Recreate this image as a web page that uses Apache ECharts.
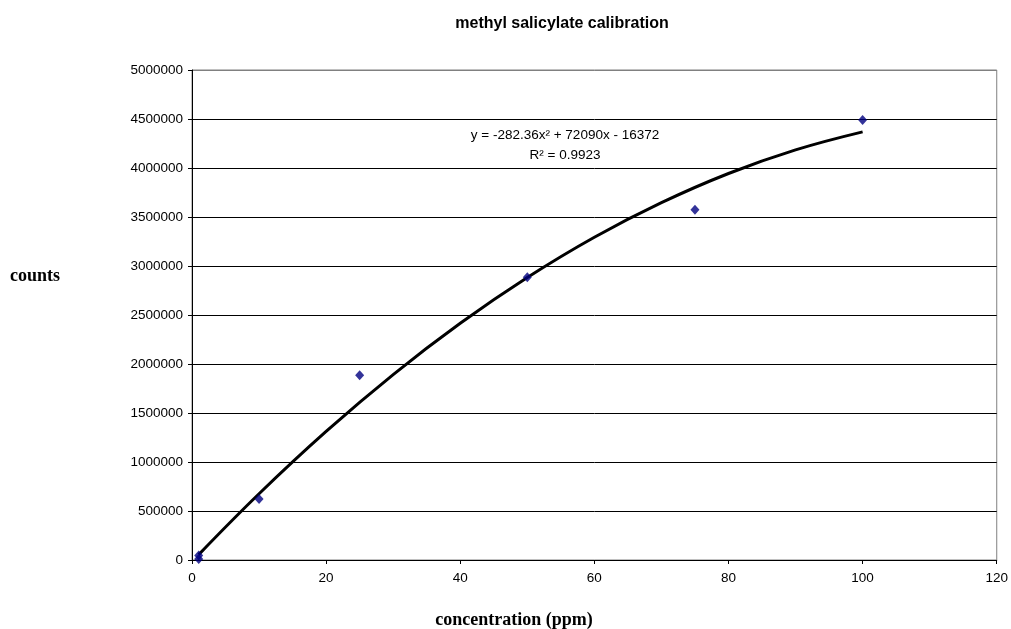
<!DOCTYPE html>
<html>
<head>
<meta charset="utf-8">
<script src="https://cdn.jsdelivr.net/npm/echarts@6/dist/echarts.min.js"></script>
<style>html,body{margin:0;padding:0;background:#fff}#c{width:1011px;height:629px}</style>
</head>
<body>
<div id="c"></div>
<script>
// measured points (concentration ppm, counts)
var concentration = [1, 1, 10, 25, 50, 75, 100];
var counts = [10000, 45000, 622000, 1885000, 2885000, 3575000, 4490000];
// trendline
var trendX = [1, 10, 20, 30, 40, 50, 60, 70, 80, 90, 100];
var trendY = [55000, 676000, 1312000, 1892000, 2415000, 2882000, 3293000, 3646000, 3944000, 4185000, 4369000];
var xTicks = [0, 20, 40, 60, 80, 100, 120];
var yTicks = [0, 500000, 1000000, 1500000, 2000000, 2500000, 3000000, 3500000, 4000000, 4500000, 5000000];
var titleText = 'methyl salicylate calibration';
var xName = 'concentration (ppm)';
var yName = 'counts';
var eqLine1 = 'y = -282.36x² + 72090x - 16372';
var eqLine2 = 'R² = 0.9923';

var chart = echarts.init(document.getElementById('c'), null, {renderer: 'canvas'});
var splitColors = yTicks.map(function (v, i) { return i === yTicks.length - 1 ? '#808080' : '#000'; });
chart.setOption({
  animation: false,
  backgroundColor: '#fff',
  title: {
    text: titleText, left: 557, top: 11, textAlign: 'center',
    textStyle: {fontFamily: 'Liberation Sans', fontSize: 16, fontWeight: 'bold', color: '#000'}
  },
  grid: {left: 192, right: 14, top: 70, bottom: 69, show: true, borderColor: '#808080', borderWidth: 1},
  xAxis: {
    type: 'value', min: xTicks[0], max: xTicks[xTicks.length - 1], interval: 20,
    axisLine: {lineStyle: {color: '#000', width: 1}},
    axisTick: {show: true, length: 4, lineStyle: {color: '#000'}},
    axisLabel: {fontFamily: 'Liberation Sans', fontSize: 13.5, color: '#000', margin: 11},
    splitLine: {show: false}
  },
  yAxis: {
    type: 'value', min: yTicks[0], max: yTicks[yTicks.length - 1], interval: 500000,
    axisLine: {show: true, lineStyle: {color: '#000', width: 1}},
    axisTick: {show: true, length: 4, lineStyle: {color: '#000'}},
    axisLabel: {fontFamily: 'Liberation Sans', fontSize: 13.5, color: '#000', margin: 9,
      formatter: function (v) { return String(v); }},
    splitLine: {show: true, lineStyle: {color: splitColors, width: 1}}
  },
  graphic: [
    {type: 'text', x: 10, y: 276, style: {text: yName, font: 'bold 18px "Liberation Serif"', fill: '#000', textVerticalAlign: 'middle'}},
    {type: 'text', x: 514, y: 620, style: {text: xName, font: 'bold 18px "Liberation Serif"', fill: '#000', textAlign: 'center', textVerticalAlign: 'middle'}},
    {type: 'text', x: 565, y: 125, style: {
      text: eqLine1 + '\n' + eqLine2, textAlign: 'center', fill: '#000',
      font: '13.5px "Liberation Sans"', lineHeight: 20
    }}
  ],
  series: [
    {
      type: 'line', data: trendX.map(function (x, i) { return [x, trendY[i]]; }),
      smooth: 0.4, showSymbol: false, symbol: 'none',
      lineStyle: {color: '#000', width: 3}, z: 2
    },
    {
      type: 'scatter', data: concentration.map(function (x, i) { return [x, counts[i]]; }),
      symbol: 'diamond', symbolSize: [9, 10],
      itemStyle: {color: '#000080'}, z: 3
    }
  ]
});
</script>
</body>
</html>
